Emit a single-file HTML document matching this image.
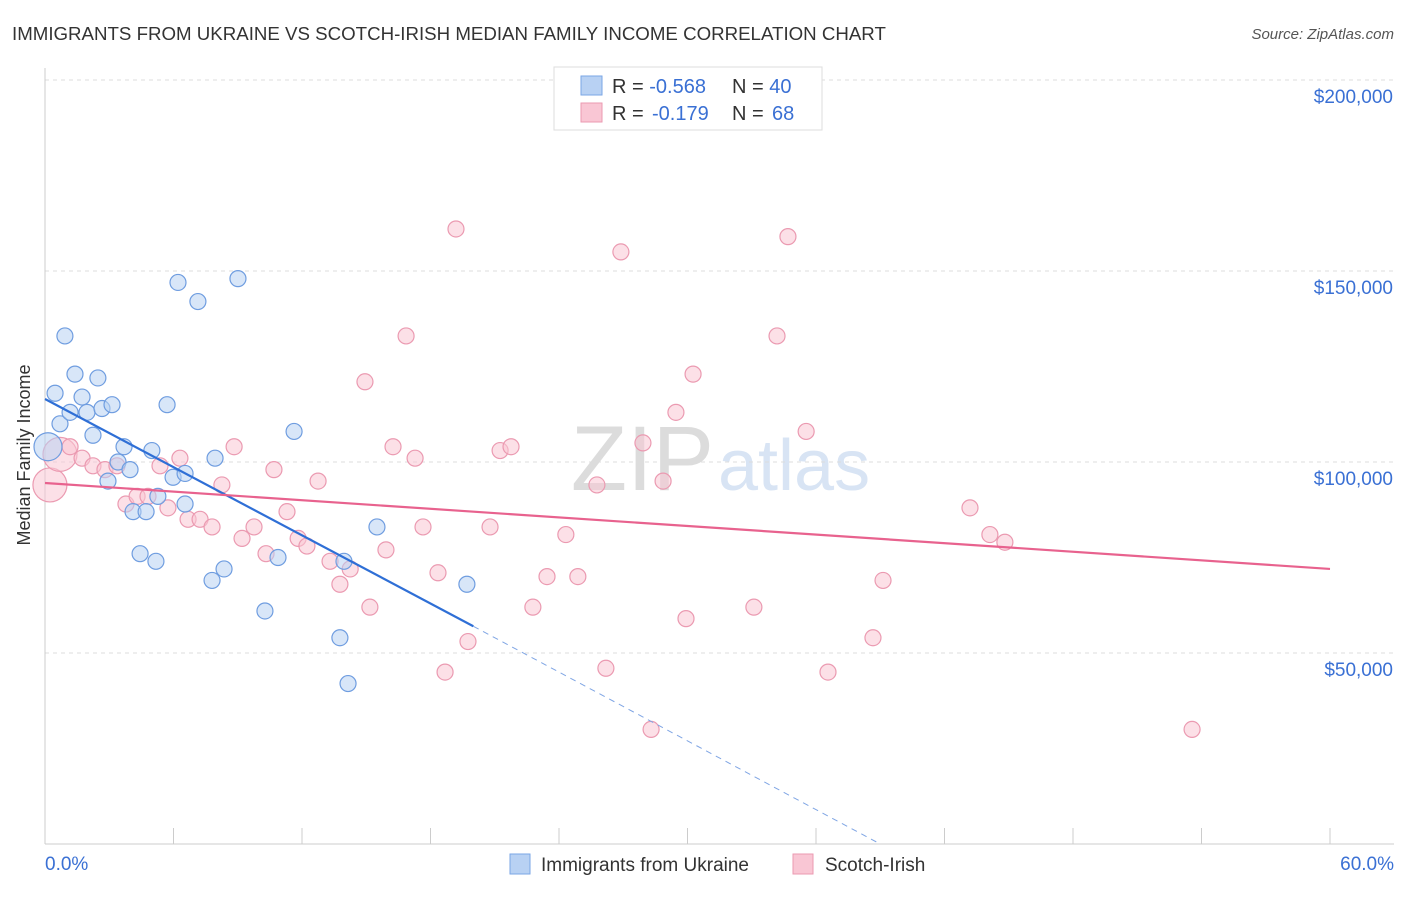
<!DOCTYPE html>
<html><head><meta charset="utf-8"><style>
body{margin:0;background:#fff;font-family:"Liberation Sans",sans-serif}
svg text{font-family:"Liberation Sans",sans-serif}
</style></head><body>
<svg id="c" width="1406" height="892">
<text x="12" y="40" font-size="18.7" fill="#333">IMMIGRANTS FROM UKRAINE VS SCOTCH-IRISH MEDIAN FAMILY INCOME CORRELATION CHART</text>
<text x="1394" y="39" font-size="15" fill="#555" font-style="italic" text-anchor="end">Source: ZipAtlas.com</text>
<text x="714" y="490" font-size="92" fill="#dcdcdc" text-anchor="end" font-family="Liberation Serif">ZIP</text>
<text x="718" y="490" font-size="72" fill="#d8e4f4">atlas</text>
<g id="grid"></g><g id="axes"></g><g id="pts"></g><g id="lines"></g>
<text x="30" y="455" font-size="18" fill="#333" text-anchor="middle" transform="rotate(-90 30 455)">Median Family Income</text>
<g>
<rect x="554" y="67" width="268" height="63" fill="#fff" stroke="#ddd"/>
<rect x="581" y="76" width="21" height="19" fill="#b8d1f3" stroke="#7aa6e6"/>
<rect x="581" y="103" width="21" height="19" fill="#f9c6d4" stroke="#eb9ab1"/>
<text x="612" y="93" font-size="20" fill="#333">R = <tspan fill="#3a70d4">-0.568</tspan><tspan x="732">N = </tspan><tspan fill="#3a70d4">40</tspan></text>
<text x="612" y="120" font-size="20" fill="#333">R = <tspan x="652" fill="#3a70d4">-0.179</tspan><tspan x="732">N = </tspan><tspan x="772" fill="#3a70d4">68</tspan></text>
</g>
<g>
<rect x="510" y="854" width="20" height="20" fill="#b8d1f3" stroke="#7aa6e6"/>
<text x="541" y="871" font-size="19" fill="#333">Immigrants from Ukraine</text>
<rect x="793" y="854" width="20" height="20" fill="#f9c6d4" stroke="#eb9ab1"/>
<text x="825" y="871" font-size="19" fill="#333">Scotch-Irish</text>
</g>
</svg>
<script>
const ukrX=[0.47,0.93,0.70,1.17,1.40,1.73,1.96,2.24,2.47,2.66,3.13,3.41,3.69,3.97,2.94,4.11,4.72,4.44,5.18,4.99,5.27,5.70,5.98,6.54,6.54,6.21,7.14,7.94,7.80,8.36,9.01,10.27,10.88,11.63,13.77,13.96,14.15,15.50,19.70,0.14];
const ukrY=[118,133,110,113,123,117,113,107,122,114,115,100,104,98,95,87,87,76,74,103,91,115,96,97,89,147,142,101,69,72,148,61,75,108,54,74,42,83,68,104];
const scX=[0.23,0.70,1.17,1.73,2.24,2.80,3.36,3.78,4.30,4.81,5.37,5.74,6.30,6.68,7.24,7.80,8.26,8.83,9.20,9.76,10.32,10.69,11.30,11.82,12.23,12.75,13.31,13.77,14.25,14.94,15.17,15.92,16.25,16.86,17.28,17.65,18.35,18.68,19.19,19.75,20.78,21.25,21.76,22.78,23.44,24.32,24.88,25.77,26.19,26.89,27.92,28.30,28.86,29.46,29.93,30.26,33.10,34.18,34.69,35.54,36.56,38.66,39.13,43.19,44.12,44.82,53.56];
const scY=[94,102,104,101,99,98,99,89,91,91,99,88,101,85,85,83,94,104,80,83,76,98,87,80,78,95,74,68,72,121,62,77,104,133,101,83,71,45,161,53,83,103,104,62,70,81,70,94,46,155,105,30,95,113,59,123,62,133,159,108,45,54,69,88,81,79,30];
const yTicks=[50000,100000,150000,200000];
const yLabels=["$50,000","$100,000","$150,000","$200,000"];
const ukrLine=[[0,116.5],[20,57]];const ukrDash=[[20,57],[39,0]];
const scLine=[[0,94.5],[60,72]];
const X=v=>45+v/60*1285, Y=v=>844-v/50*191;
const ns="http://www.w3.org/2000/svg";
function mk(t,p,a){const e=document.createElementNS(ns,t);for(const k in a)e.setAttribute(k,a[k]);document.getElementById(p).appendChild(e);return e;}
yTicks.forEach((t,i)=>{
 const g=mk('line','grid',{x1:45,x2:1394,y1:Y(t/1000),y2:Y(t/1000),stroke:'#ddd','stroke-dasharray':'4,4'});
 
 
 const l=mk('text','grid',{x:1393,y:Y(t/1000)+23,'font-size':19,fill:'#3a70d4','text-anchor':'end'});l.textContent=yLabels[i];
 
 
});
mk('line','axes',{x1:45,x2:45,y1:68,y2:844,stroke:'#ccc'});
mk('line','axes',{x1:45,x2:1394,y1:844,y2:844,stroke:'#ccc'});
for(let i=0;i<=10;i++){const t=mk('line','axes',{x1:X(i*6),x2:X(i*6),y1:828,y2:844,stroke:'#ccc'});
 
 }
let a=mk('text','axes',{x:45,y:870,'font-size':19,fill:'#3a70d4'});a.textContent='0.0%';

a=mk('text','axes',{x:1394,y:870,'font-size':19,fill:'#3a70d4','text-anchor':'end'});a.textContent='60.0%';

function dot(x,y,fill,stroke,name,r){const c=mk('circle','pts',{cx:X(x),cy:Y(y),r:r,fill:fill,'fill-opacity':0.55,stroke:stroke,'stroke-width':1.2});
 
 }
scX.forEach((x,i)=>dot(x,scY[i],'#f9c6d4','#eb9ab1','scotch-irish-point',i<2?17:8));
ukrX.forEach((x,i)=>dot(x,ukrY[i],'#b8d1f3','#6f9de0','ukraine-point',i==39?14:8));
function ln(p,c,w,d,name){const e=mk('line','lines',{x1:X(p[0][0]),y1:Y(p[0][1]),x2:X(p[1][0]),y2:Y(p[1][1]),stroke:c,'stroke-width':w});if(d)e.setAttribute('stroke-dasharray',d);
 
 }
ln(ukrLine,'#2f6fd6',2.2,null,'ukraine-trend-line');
ln(ukrDash,'#7fa5e4',1,'6,5','ukraine-trend-extension');
ln(scLine,'#e8628e',2.2,null,'scotch-irish-trend-line');
</script>
</body></html>
